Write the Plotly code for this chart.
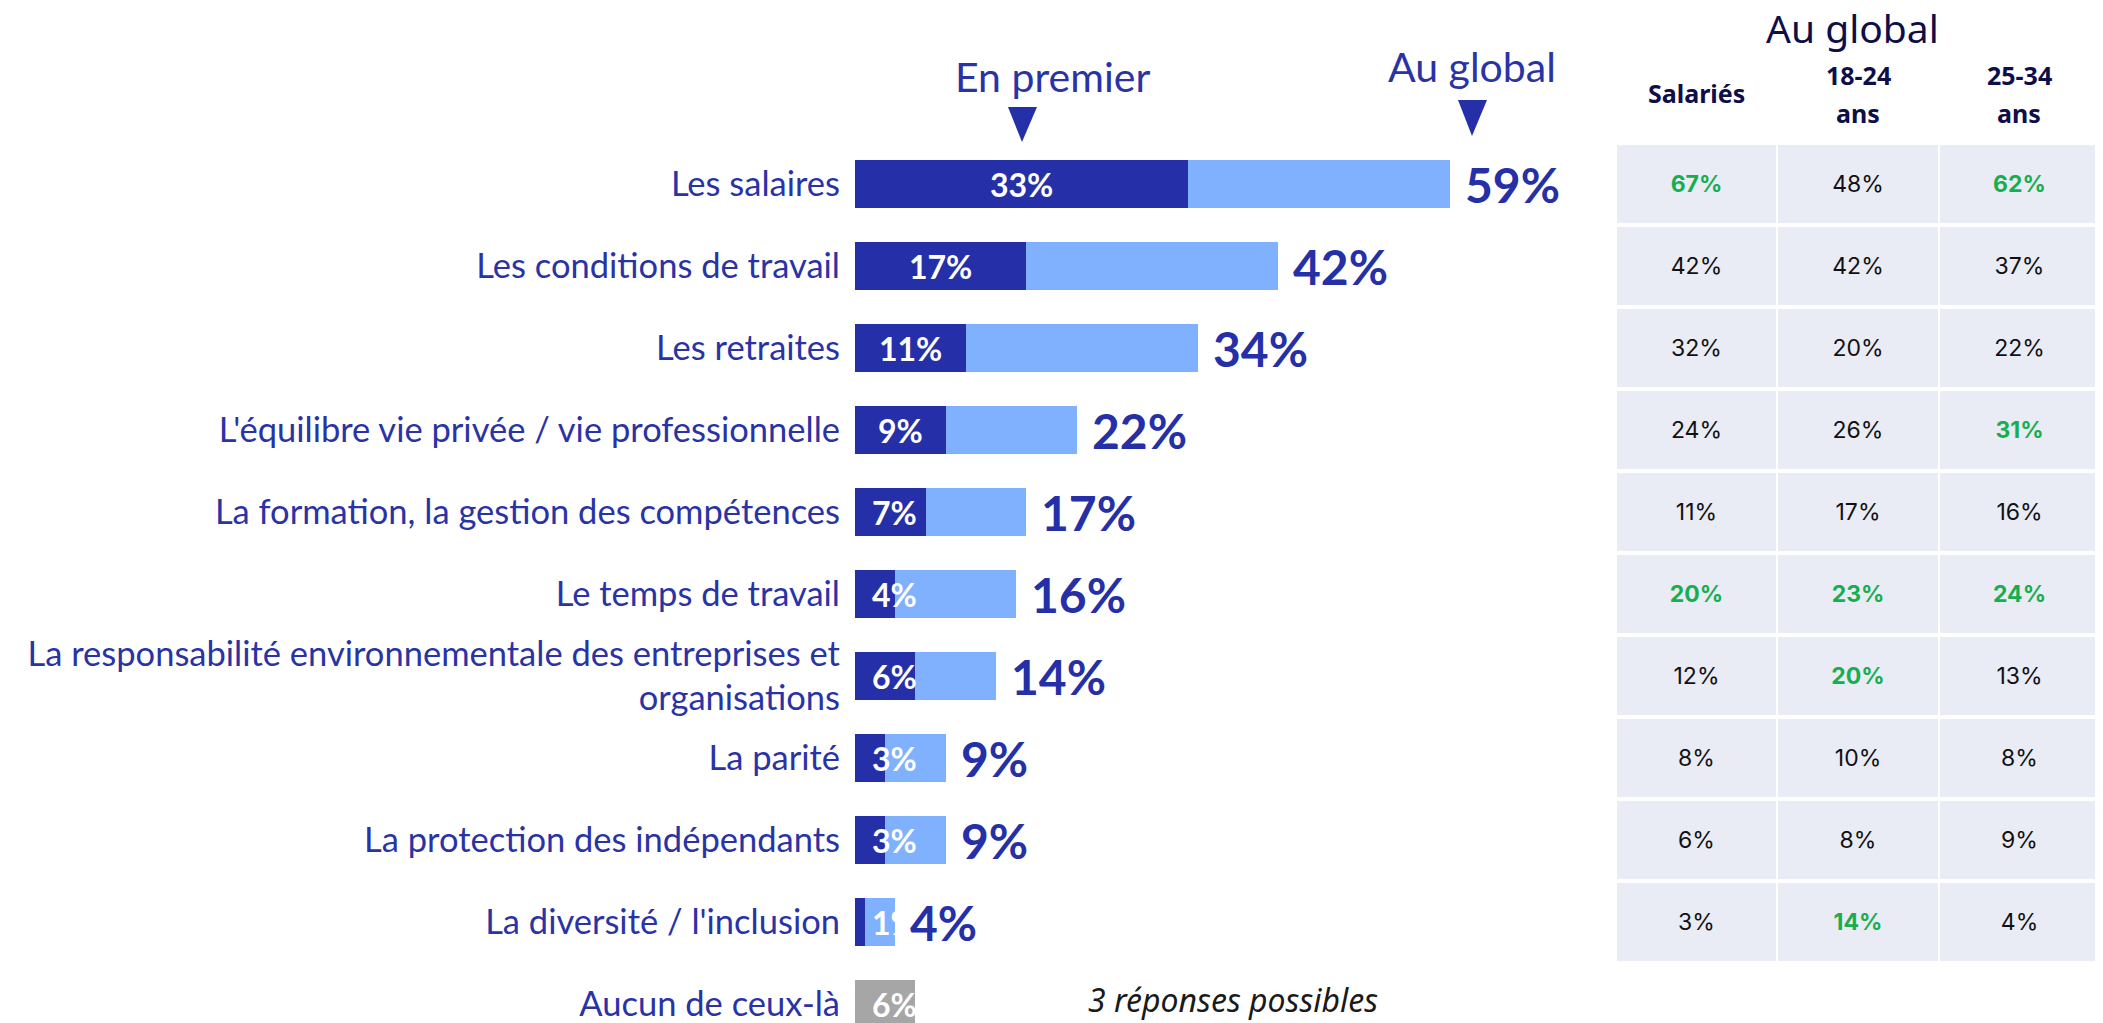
import plotly.graph_objects as go

# ---------------- data ----------------
categories = [
    "Les salaires",
    "Les conditions de travail",
    "Les retraites",
    "L'équilibre vie privée / vie professionnelle",
    "La formation, la gestion des compétences",
    "Le temps de travail",
    "La responsabilité environnementale des entreprises et<br>organisations",
    "La parité",
    "La protection des indépendants",
    "La diversité / l'inclusion",
    "Aucun de ceux-là",
]
en_premier = [33, 17, 11, 9, 7, 4, 6, 3, 3, 1, None]
au_global = [59, 42, 34, 22, 17, 16, 14, 9, 9, 4, 6]

table_headers = ["Salariés", "18-24<br>ans", "25-34<br>ans"]
salaries = [67, 42, 32, 24, 11, 20, 12, 8, 6, 3]
age_18_24 = [48, 42, 20, 26, 17, 23, 20, 10, 8, 14]
age_25_34 = [62, 37, 22, 31, 16, 24, 13, 8, 9, 4]
hl_salaries = [True, False, False, False, False, True, False, False, False, False]
hl_18_24 = [False, False, False, False, False, True, True, False, False, True]
hl_25_34 = [True, False, False, True, False, True, False, False, False, False]

# ---------------- style ----------------
OFF = 8                      # page body margin
W, H = 2103 - OFF, 1023 - OFF
DARK = "#2530A8"
LIGHT = "#80B1FF"
GREY = "#A6A6A6"
LABEL = "#2A33A5"
NAVY = "#0E0E4A"
GREEN = "#17AE50"
CELL = "#E9EBF5"
FONT = "Lato"
PX_PER_PCT = 10.08
ROW = 82.0


def px(x):
    return (x - OFF) / W


def py(y):
    return 1 - (y - OFF) / H


fig = go.Figure()

light_colors = [LIGHT if v is not None else GREY for v in en_premier]

fig.add_trace(go.Bar(
    y=categories, x=au_global, orientation="h",
    marker=dict(color=light_colors, line=dict(width=0)),
    width=0.585, xaxis="x", yaxis="y", hoverinfo="skip", showlegend=False,
))
fig.add_trace(go.Bar(
    y=categories, x=en_premier, orientation="h",
    marker=dict(color=DARK, line=dict(width=0)),
    width=0.585, xaxis="x", yaxis="y", hoverinfo="skip", showlegend=False,
))

# table cells as bars on a second x axis
cols = [(salaries, hl_salaries), (age_18_24, hl_18_24), (age_25_34, hl_25_34)]
gap = 0.0124
for j, (vals, hls) in enumerate(cols):
    fig.add_trace(go.Bar(
        y=categories[:len(vals)], x=[1 - gap] * len(vals), base=[j] * len(vals),
        orientation="h", width=0.951,
        marker=dict(color=CELL, line=dict(width=0)),
        text=[f"<b>{v}%</b>" if h else f"{v}%" for v, h in zip(vals, hls)],
        textposition="inside", insidetextanchor="middle", textangle=0,
        constraintext="none",
        textfont=dict(family="Inter", size=23,
                      color=[GREEN if h else "#111111" for h in hls]),
        xaxis="x2", yaxis="y", hoverinfo="skip", showlegend=False,
    ))

annotations = []
MIN_CENTER = 3.87
# labels inside dark / grey bars
for cat, p, g in zip(categories, en_premier, au_global):
    v = p if p is not None else g
    annotations.append(dict(
        x=max(v / 2, MIN_CENTER), y=cat, xref="x", yref="y",
        text=f"<b>{v}%</b>", showarrow=False, xanchor="center", yanchor="middle",
        font=dict(family=FONT, size=32, color="white"),
    ))
# totals outside
for cat, p, g in zip(categories, en_premier, au_global):
    if p is None:
        continue
    annotations.append(dict(
        x=g, y=cat, xref="x", yref="y", xshift=13,
        text=f"<b>{g}%</b>", showarrow=False, xanchor="left", yanchor="middle",
        font=dict(family=FONT, size=48, color=DARK),
    ))

# headings above bars
annotations.append(dict(x=px(1052), y=py(76), xref="paper", yref="paper",
                        text="En premier", showarrow=False, xanchor="center", yanchor="middle",
                        font=dict(family=FONT, size=41, color=LABEL)))
annotations.append(dict(x=px(1472), y=py(67), xref="paper", yref="paper",
                        text="Au global", showarrow=False, xanchor="center", yanchor="middle",
                        font=dict(family=FONT, size=41, color=LABEL)))

# table title + headers
annotations.append(dict(x=px(1852), y=py(27), xref="paper", yref="paper",
                        text="Au global", showarrow=False, xanchor="center", yanchor="middle",
                        font=dict(family="Noto Sans", size=39, color=NAVY)))
for j, hdr in enumerate(table_headers):
    lines = hdr.split("<br>")
    if len(lines) == 1:
        annotations.append(dict(x=j + 0.5 - gap / 2, y=py(93), xref="x2", yref="paper",
                                text=f"<b>{lines[0]}</b>", showarrow=False,
                                xanchor="center", yanchor="middle",
                                font=dict(family="Noto Sans", size=25, color=NAVY)))
    else:
        for k, ln in enumerate(lines):
            annotations.append(dict(x=j + 0.5 - gap / 2, y=py(75 + 38 * k), xref="x2", yref="paper",
                                    text=f"<b>{ln}</b>", showarrow=False,
                                    xanchor="center", yanchor="middle",
                                    font=dict(family="Noto Sans", size=25, color=NAVY)))

annotations.append(dict(x=px(1233), y=py(999), xref="paper", yref="paper",
                        text="<i>3 réponses possibles</i>", showarrow=False,
                        xanchor="center", yanchor="middle",
                        font=dict(family="Noto Sans", size=32, color="#1A1A1A")))

shapes = [
    dict(type="path", xref="paper", yref="paper", line=dict(width=0), fillcolor=DARK,
         path=f"M {px(1008)},{py(107)} L {px(1037)},{py(107)} L {px(1022)},{py(142)} Z"),
    dict(type="path", xref="paper", yref="paper", line=dict(width=0), fillcolor=DARK,
         path=f"M {px(1458)},{py(100)} L {px(1487)},{py(100)} L {px(1472)},{py(136)} Z"),
]

x0, x1 = 855, 1600
top = -(184 - OFF) / ROW
bottom = top + H / ROW

fig.update_layout(
    width=W, height=H,
    margin=dict(l=0, r=0, t=0, b=0, pad=0),
    paper_bgcolor="white", plot_bgcolor="white",
    barmode="overlay", bargap=0,
    showlegend=False,
    xaxis=dict(domain=[px(x0), px(x1)], range=[0, (x1 - x0) / PX_PER_PCT], visible=False,
               anchor="y", fixedrange=True),
    xaxis2=dict(domain=[px(1617), px(2101)], range=[0, 3], visible=False,
                anchor="y", fixedrange=True),
    yaxis=dict(domain=[0, 1], range=[bottom, top], type="category",
               categoryorder="array", categoryarray=categories,
               showgrid=False, zeroline=False, showline=False, ticks="",
               ticklabelstandoff=14, automargin=False,
               tickfont=dict(family=FONT, size=34.5, color=LABEL), anchor="x"),
    annotations=annotations,
    shapes=shapes,
)

fig.write_html("out.html")
